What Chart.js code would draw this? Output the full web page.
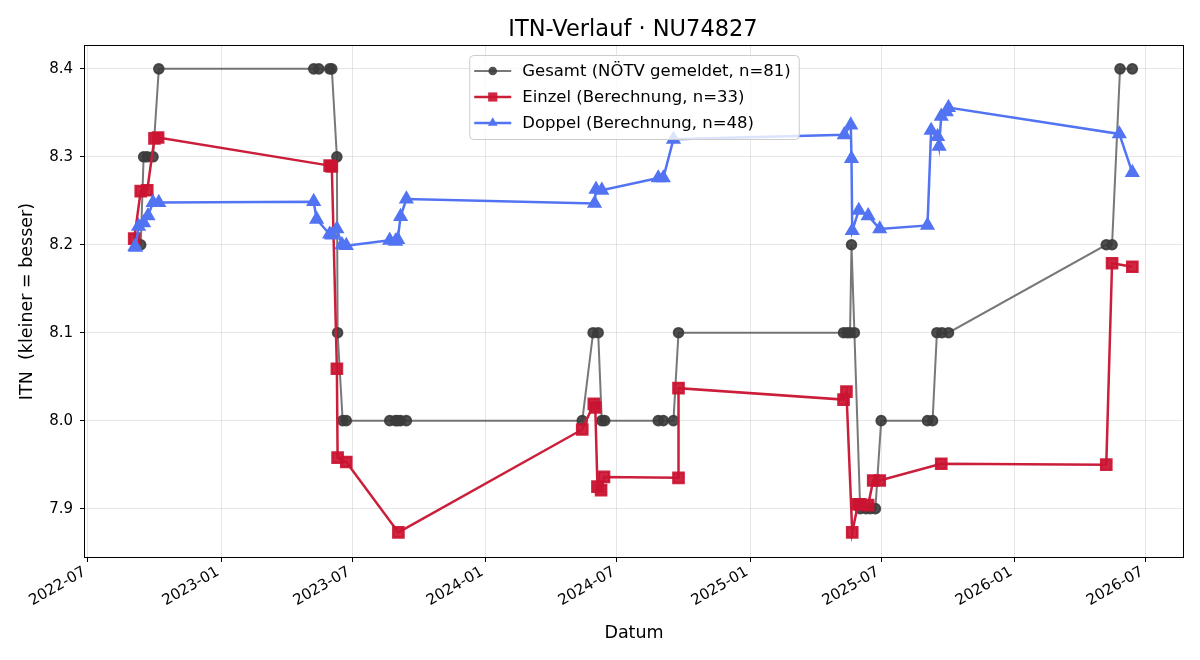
<!DOCTYPE html>
<html>
<head>
<meta charset="utf-8">
<title>ITN-Verlauf</title>
<script src="https://cdn.jsdelivr.net/npm/chart.js@4.4.1/dist/chart.umd.min.js"></script>
<style>
  html, body { margin: 0; padding: 0; background: #fff; }
  #wrap { width: 1200px; height: 660px; }
</style>
</head>
<body>
<div id="wrap"><canvas id="itn-chart" width="1200" height="660"></canvas></div>
<script>
// Gesamt (NÖTV gemeldet)
const gesamtDates = [
    '2022-09-12', '2022-09-16', '2022-09-21', '2022-09-29', '2022-10-07',
    '2023-05-09', '2023-05-16', '2023-05-31', '2023-06-03', '2023-06-10',
    '2023-06-11', '2023-06-18', '2023-06-23', '2023-08-22', '2023-08-30',
    '2023-09-02', '2023-09-06', '2023-09-14', '2024-05-14', '2024-05-29',
    '2024-06-05', '2024-06-10', '2024-06-14', '2024-08-27', '2024-09-03',
    '2024-09-17', '2024-09-24', '2025-05-10', '2025-05-15', '2025-05-19',
    '2025-05-21', '2025-05-25', '2025-06-02', '2025-06-10', '2025-06-16',
    '2025-06-23', '2025-07-01', '2025-09-03', '2025-09-10', '2025-09-16',
    '2025-09-23', '2025-10-02', '2026-05-08', '2026-05-16', '2026-05-27',
    '2026-06-13'
];
const gesamtValues = [
    8.2, 8.3, 8.3, 8.3, 8.4,
    8.4, 8.4, 8.4, 8.4, 8.3,
    8.1, 8.0, 8.0, 8.0, 8.0,
    8.0, 8.0, 8.0, 8.0, 8.1,
    8.1, 8.0, 8.0, 8.0, 8.0,
    8.0, 8.1, 8.1, 8.1, 8.1,
    8.2, 8.1, 7.9, 7.9, 7.9,
    7.9, 8.0, 8.0, 8.0, 8.1,
    8.1, 8.1, 8.2, 8.2, 8.4,
    8.4
];

// Einzel (Berechnung)
const einzelDates = [
    '2022-09-03', '2022-09-12', '2022-09-21', '2022-10-01', '2022-10-06',
    '2023-05-31', '2023-06-03', '2023-06-10', '2023-06-11', '2023-06-23',
    '2023-09-03', '2024-05-14', '2024-05-30', '2024-06-01', '2024-06-04',
    '2024-06-09', '2024-06-13', '2024-09-24', '2024-09-24', '2025-05-10',
    '2025-05-14', '2025-05-22', '2025-05-30', '2025-06-02', '2025-06-13',
    '2025-06-20', '2025-06-29', '2025-09-22', '2026-05-08', '2026-05-16',
    '2026-06-13'
];
const einzelValues = [
    8.207, 8.261, 8.262, 8.321, 8.322,
    8.290, 8.289, 8.059, 7.958, 7.953,
    7.873, 7.990, 8.019, 8.015, 7.925,
    7.921, 7.936, 7.935, 8.037, 8.024,
    8.033, 7.873, 7.905, 7.905, 7.904,
    7.932, 7.932, 7.951, 7.950, 8.179,
    8.175
];

// Doppel (Berechnung)
const doppelDates = [
    '2022-09-04', '2022-09-05', '2022-09-09', '2022-09-16', '2022-09-22',
    '2022-09-29', '2022-10-07', '2023-05-09', '2023-05-13', '2023-05-31',
    '2023-06-03', '2023-06-10', '2023-06-17', '2023-06-23', '2023-08-22',
    '2023-08-30', '2023-09-02', '2023-09-06', '2023-09-14', '2024-05-31',
    '2024-06-02', '2024-06-10', '2024-08-27', '2024-09-03', '2024-09-17',
    '2025-05-11', '2025-05-20', '2025-05-21', '2025-05-22', '2025-05-31',
    '2025-06-13', '2025-06-29', '2025-09-03', '2025-09-08', '2025-09-17',
    '2025-09-19', '2025-09-22', '2025-09-29', '2025-10-02', '2026-05-26',
    '2026-06-13'
];
const doppelValues = [
    8.198, 8.197, 8.221, 8.225, 8.233,
    8.248, 8.248, 8.249, 8.229, 8.212,
    8.211, 8.218, 8.200, 8.199, 8.205,
    8.204, 8.206, 8.232, 8.252, 8.247,
    8.263, 8.262, 8.276, 8.276, 8.320,
    8.325, 8.336, 8.298, 8.216, 8.239,
    8.233, 8.218, 8.222, 8.330, 8.323,
    8.312, 8.346, 8.351, 8.356, 8.326,
    8.282
];

// Axis ticks
const xTickDates = [
    '2022-07-01', '2023-01-01', '2023-07-01', '2024-01-01', '2024-07-01',
    '2025-01-01', '2025-07-01', '2026-01-01', '2026-07-01'
];
const yTickValues = [7.9, 8.0, 8.1, 8.2, 8.3, 8.4];

const FONT = 'DejaVu Sans';

const toTime = d => Date.parse(d);
const toPoints = (dates, values) => dates.map((d, i) => ({ x: toTime(d), y: values[i] }));

// draw a legend marker the same way Chart.js draws the point styles
function drawMarker(ctx, style, x, y, r, color) {
    ctx.save();
    ctx.fillStyle = color;
    ctx.beginPath();
    if (style === 'circle') {
        ctx.arc(x, y, r, 0, Math.PI * 2);
    } else if (style === 'rect') {
        const s = Math.SQRT1_2 * r;
        ctx.rect(x - s, y - s, 2 * s, 2 * s);
    } else if (style === 'triangle') {
        let a = 0;
        ctx.moveTo(x + Math.sin(a) * r, y - Math.cos(a) * r);
        a += Math.PI * 2 / 3;
        ctx.lineTo(x + Math.sin(a) * r, y - Math.cos(a) * r);
        a += Math.PI * 2 / 3;
        ctx.lineTo(x + Math.sin(a) * r, y - Math.cos(a) * r);
        ctx.closePath();
    }
    ctx.fill();
    ctx.restore();
}

function roundRect(ctx, x, y, w, h, r) {
    ctx.beginPath();
    ctx.moveTo(x + r, y);
    ctx.lineTo(x + w - r, y);
    ctx.quadraticCurveTo(x + w, y, x + w, y + r);
    ctx.lineTo(x + w, y + h - r);
    ctx.quadraticCurveTo(x + w, y + h, x + w - r, y + h);
    ctx.lineTo(x + r, y + h);
    ctx.quadraticCurveTo(x, y + h, x, y + h - r);
    ctx.lineTo(x, y + r);
    ctx.quadraticCurveTo(x, y, x + r, y);
    ctx.closePath();
}

// title, axes box and matplotlib-like legend
const decorPlugin = {
    id: 'decor',
    afterDatasetsDraw(chart) {
        const { ctx, chartArea: a } = chart;
        ctx.save();
        ctx.strokeStyle = '#000';
        ctx.lineWidth = 1;
        ctx.strokeRect(Math.round(a.left) - 0.5, Math.round(a.top) - 0.5,
            Math.round(a.right - a.left) + 1, Math.round(a.bottom - a.top) + 1);
        ctx.restore();
    },
    afterDraw(chart) {
        const { ctx, chartArea: a } = chart;
        ctx.save();

        // title
        ctx.fillStyle = '#000';
        ctx.font = '22.5px "' + FONT + '"';
        ctx.textAlign = 'center';
        ctx.textBaseline = 'alphabetic';
        ctx.fillText('ITN-Verlauf · NU74827', (a.left + a.right) / 2 - 1, 36);

        // legend
        const sets = chart.data.datasets;
        ctx.font = '16.5px "' + FONT + '"';
        const textW = Math.max(...sets.map(s => ctx.measureText(s.label).width));
        const rowH = 26;
        const boxW = 5 + 37 + 11 + textW + 8;
        const boxH = rowH * sets.length + 6;
        const boxX = (a.left + a.right) / 2 - boxW / 2;
        const boxY = a.top + 9;

        roundRect(ctx, boxX + 0.5, boxY + 0.5, boxW, boxH, 4);
        ctx.fillStyle = 'rgba(255,255,255,0.8)';
        ctx.fill();
        ctx.strokeStyle = '#cccccc';
        ctx.lineWidth = 1;
        ctx.stroke();

        sets.forEach((s, i) => {
            const cy = boxY + 16 + i * rowH;
            const x0 = boxX + 5;
            ctx.strokeStyle = s.borderColor;
            ctx.lineWidth = s.borderWidth;
            ctx.beginPath();
            ctx.moveTo(x0, cy);
            ctx.lineTo(x0 + 37, cy);
            ctx.stroke();
            drawMarker(ctx, s.pointStyle, x0 + 18.5, cy, s.pointRadius * 0.9, s.pointBackgroundColor);
            ctx.fillStyle = '#000';
            ctx.textAlign = 'left';
            ctx.textBaseline = 'middle';
            ctx.fillText(s.label, x0 + 48, cy + 1);
        });
        ctx.restore();
    }
};

const tickFont = { family: FONT, size: 15 };
const titleFont = { family: FONT, size: 17.5 };
const gridOpts = {
    color: 'rgba(176,176,176,0.32)',
    lineWidth: 1,
    tickColor: '#000',
    tickLength: 5,
    drawTicks: true
};

new Chart(document.getElementById('itn-chart'), {
    type: 'line',
    data: {
        datasets: [
            {
                label: 'Doppel (Berechnung, n=48)',
                data: toPoints(doppelDates, doppelValues),
                borderColor: 'rgb(82,116,242)',
                backgroundColor: 'rgb(82,116,242)',
                pointBackgroundColor: 'rgb(82,116,242)',
                pointBorderColor: 'rgb(82,116,242)',
                pointStyle: 'triangle',
                pointRadius: 6.3,
                borderWidth: 2.5,
                order: 1
            },
            {
                label: 'Einzel (Berechnung, n=33)',
                data: toPoints(einzelDates, einzelValues),
                borderColor: 'rgb(203,30,58)',
                backgroundColor: 'rgb(203,30,58)',
                pointBackgroundColor: 'rgba(203,20,50,0.92)',
                pointBorderColor: 'rgba(203,20,50,0.92)',
                pointStyle: 'rect',
                pointRadius: 7.2,
                borderWidth: 2.5,
                order: 2
            },
            {
                label: 'Gesamt (NÖTV gemeldet, n=81)',
                data: toPoints(gesamtDates, gesamtValues),
                borderColor: 'rgba(68,68,68,0.72)',
                backgroundColor: 'rgba(60,60,60,0.9)',
                pointBackgroundColor: 'rgba(60,60,60,0.9)',
                pointBorderColor: 'rgba(60,60,60,0.9)',
                pointStyle: 'circle',
                pointRadius: 4.8,
                borderWidth: 2,
                order: 3
            }
        ].reverse()
    },
    options: {
        responsive: false,
        animation: false,
        devicePixelRatio: 1,
        layout: { padding: { left: 0, right: 17, top: 46, bottom: 0 } },
        elements: { line: { tension: 0, fill: false }, point: { borderWidth: 1, hoverRadius: 7 } },
        plugins: {
            legend: { display: false },
            title: { display: false },
            tooltip: { enabled: false }
        },
        scales: {
            x: {
                type: 'linear',
                min: toTime('2022-06-27'),
                max: toTime('2026-08-22'),
                afterBuildTicks: axis => { axis.ticks = xTickDates.map(d => ({ value: toTime(d) })); },
                afterFit: axis => { axis.height = 103; },
                ticks: {
                    autoSkip: false,
                    minRotation: 30,
                    maxRotation: 30,
                    padding: 1,
                    labelOffset: -3,
                    color: '#000',
                    font: tickFont,
                    callback: v => new Date(v).toISOString().slice(0, 7)
                },
                grid: gridOpts,
                border: { display: false },
                title: { display: true, text: 'Datum', color: '#000', font: titleFont, padding: { bottom: 16 } }
            },
            y: {
                min: 7.845,
                max: 8.426,
                afterBuildTicks: axis => { axis.ticks = yTickValues.map(v => ({ value: v })); },
                afterFit: axis => { axis.width = 85; },
                ticks: {
                    padding: 7,
                    color: '#000',
                    font: tickFont,
                    callback: v => v.toFixed(1)
                },
                grid: gridOpts,
                border: { display: false },
                title: { display: true, text: 'ITN  (kleiner = besser)', color: '#000', font: titleFont, padding: { top: 17 } }
            }
        }
    },
    plugins: [decorPlugin]
});
</script>
</body>
</html>
